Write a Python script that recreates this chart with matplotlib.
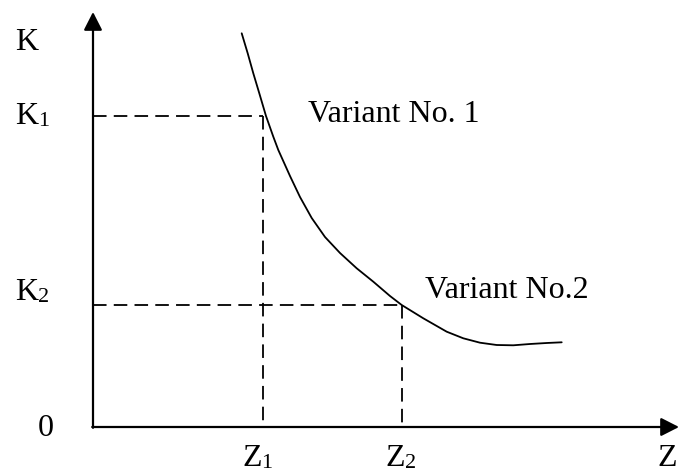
import matplotlib.pyplot as plt

plt.rcParams['font.family'] = ['Liberation Serif', 'DejaVu Serif']

# curve K(Z) (arbitrary units, origin at the axes corner)
z_curve = [1.487, 1.547, 1.603, 1.663, 1.73, 1.803, 1.853, 1.97, 2.07, 2.187, 2.32,
           2.47, 2.637, 2.803, 2.97, 3.087, 3.303, 3.537, 3.703, 3.87, 4.037, 4.203,
           4.37, 4.537, 4.687]
k_curve = [3.937, 3.737, 3.537, 3.337, 3.11, 2.903, 2.77, 2.51, 2.30, 2.09, 1.90,
           1.74, 1.587, 1.453, 1.31, 1.22, 1.087, 0.953, 0.887, 0.843, 0.82, 0.817,
           0.83, 0.84, 0.847]

z_marks = [1.703, 3.087]
k_marks = [3.11, 1.22]
variant_labels = ['Variant No. 1', 'Variant No.2']

fig = plt.figure(figsize=(6.79, 4.72), dpi=100)
ax = fig.add_axes([0, 0, 1, 1])
ax.set_xlim(-0.93, 5.86)
ax.set_ylim(-0.45, 4.27)
ax.axis('off')

# axes with arrows
arrow = dict(arrowstyle='-|>,head_length=0.55,head_width=0.28', lw=1.6, color='black',
             mutation_scale=20, shrinkA=0, shrinkB=0)
ax.annotate('', xy=(0, 4.15), xytext=(0, -0.008), arrowprops=arrow, annotation_clip=False)
ax.annotate('', xy=(5.86, 0), xytext=(-0.008, 0), arrowprops=arrow, annotation_clip=False)

ax.plot(z_curve, k_curve, color='black', lw=1.3, solid_capstyle='round',
        solid_joinstyle='round')

for z, k in zip(z_marks, k_marks):
    ax.plot([0, z], [k, k], color='black', lw=1.3, dashes=(7.5, 4))
    ax.plot([z, z], [k, 0], color='black', lw=1.3, dashes=(7.5, 4))

fs = 23
sub_fs = 16


def label(x, y, letter, sub=None, width=0.722):
    ax.text(x, y, letter, fontsize=fs, ha='left', va='baseline')
    if sub:
        ax.annotate(sub, xy=(x, y), xytext=(width * fs, -1.5), textcoords='offset points',
                    fontsize=sub_fs, ha='left', va='baseline')


label(-0.78, 3.77, 'K')
label(-0.78, 3.03, 'K', '1')
label(-0.78, 1.27, 'K', '2')
label(-0.55, -0.09, '0')
label(1.49, -0.385, 'Z', '1', width=0.611)
label(2.92, -0.385, 'Z', '2', width=0.611)
label(5.64, -0.385, 'Z')

ax.text(2.15, 3.05, variant_labels[0], fontsize=fs, ha='left', va='baseline')
ax.text(3.32, 1.29, variant_labels[1], fontsize=fs, ha='left', va='baseline')

fig.savefig('out.png', dpi=100)
